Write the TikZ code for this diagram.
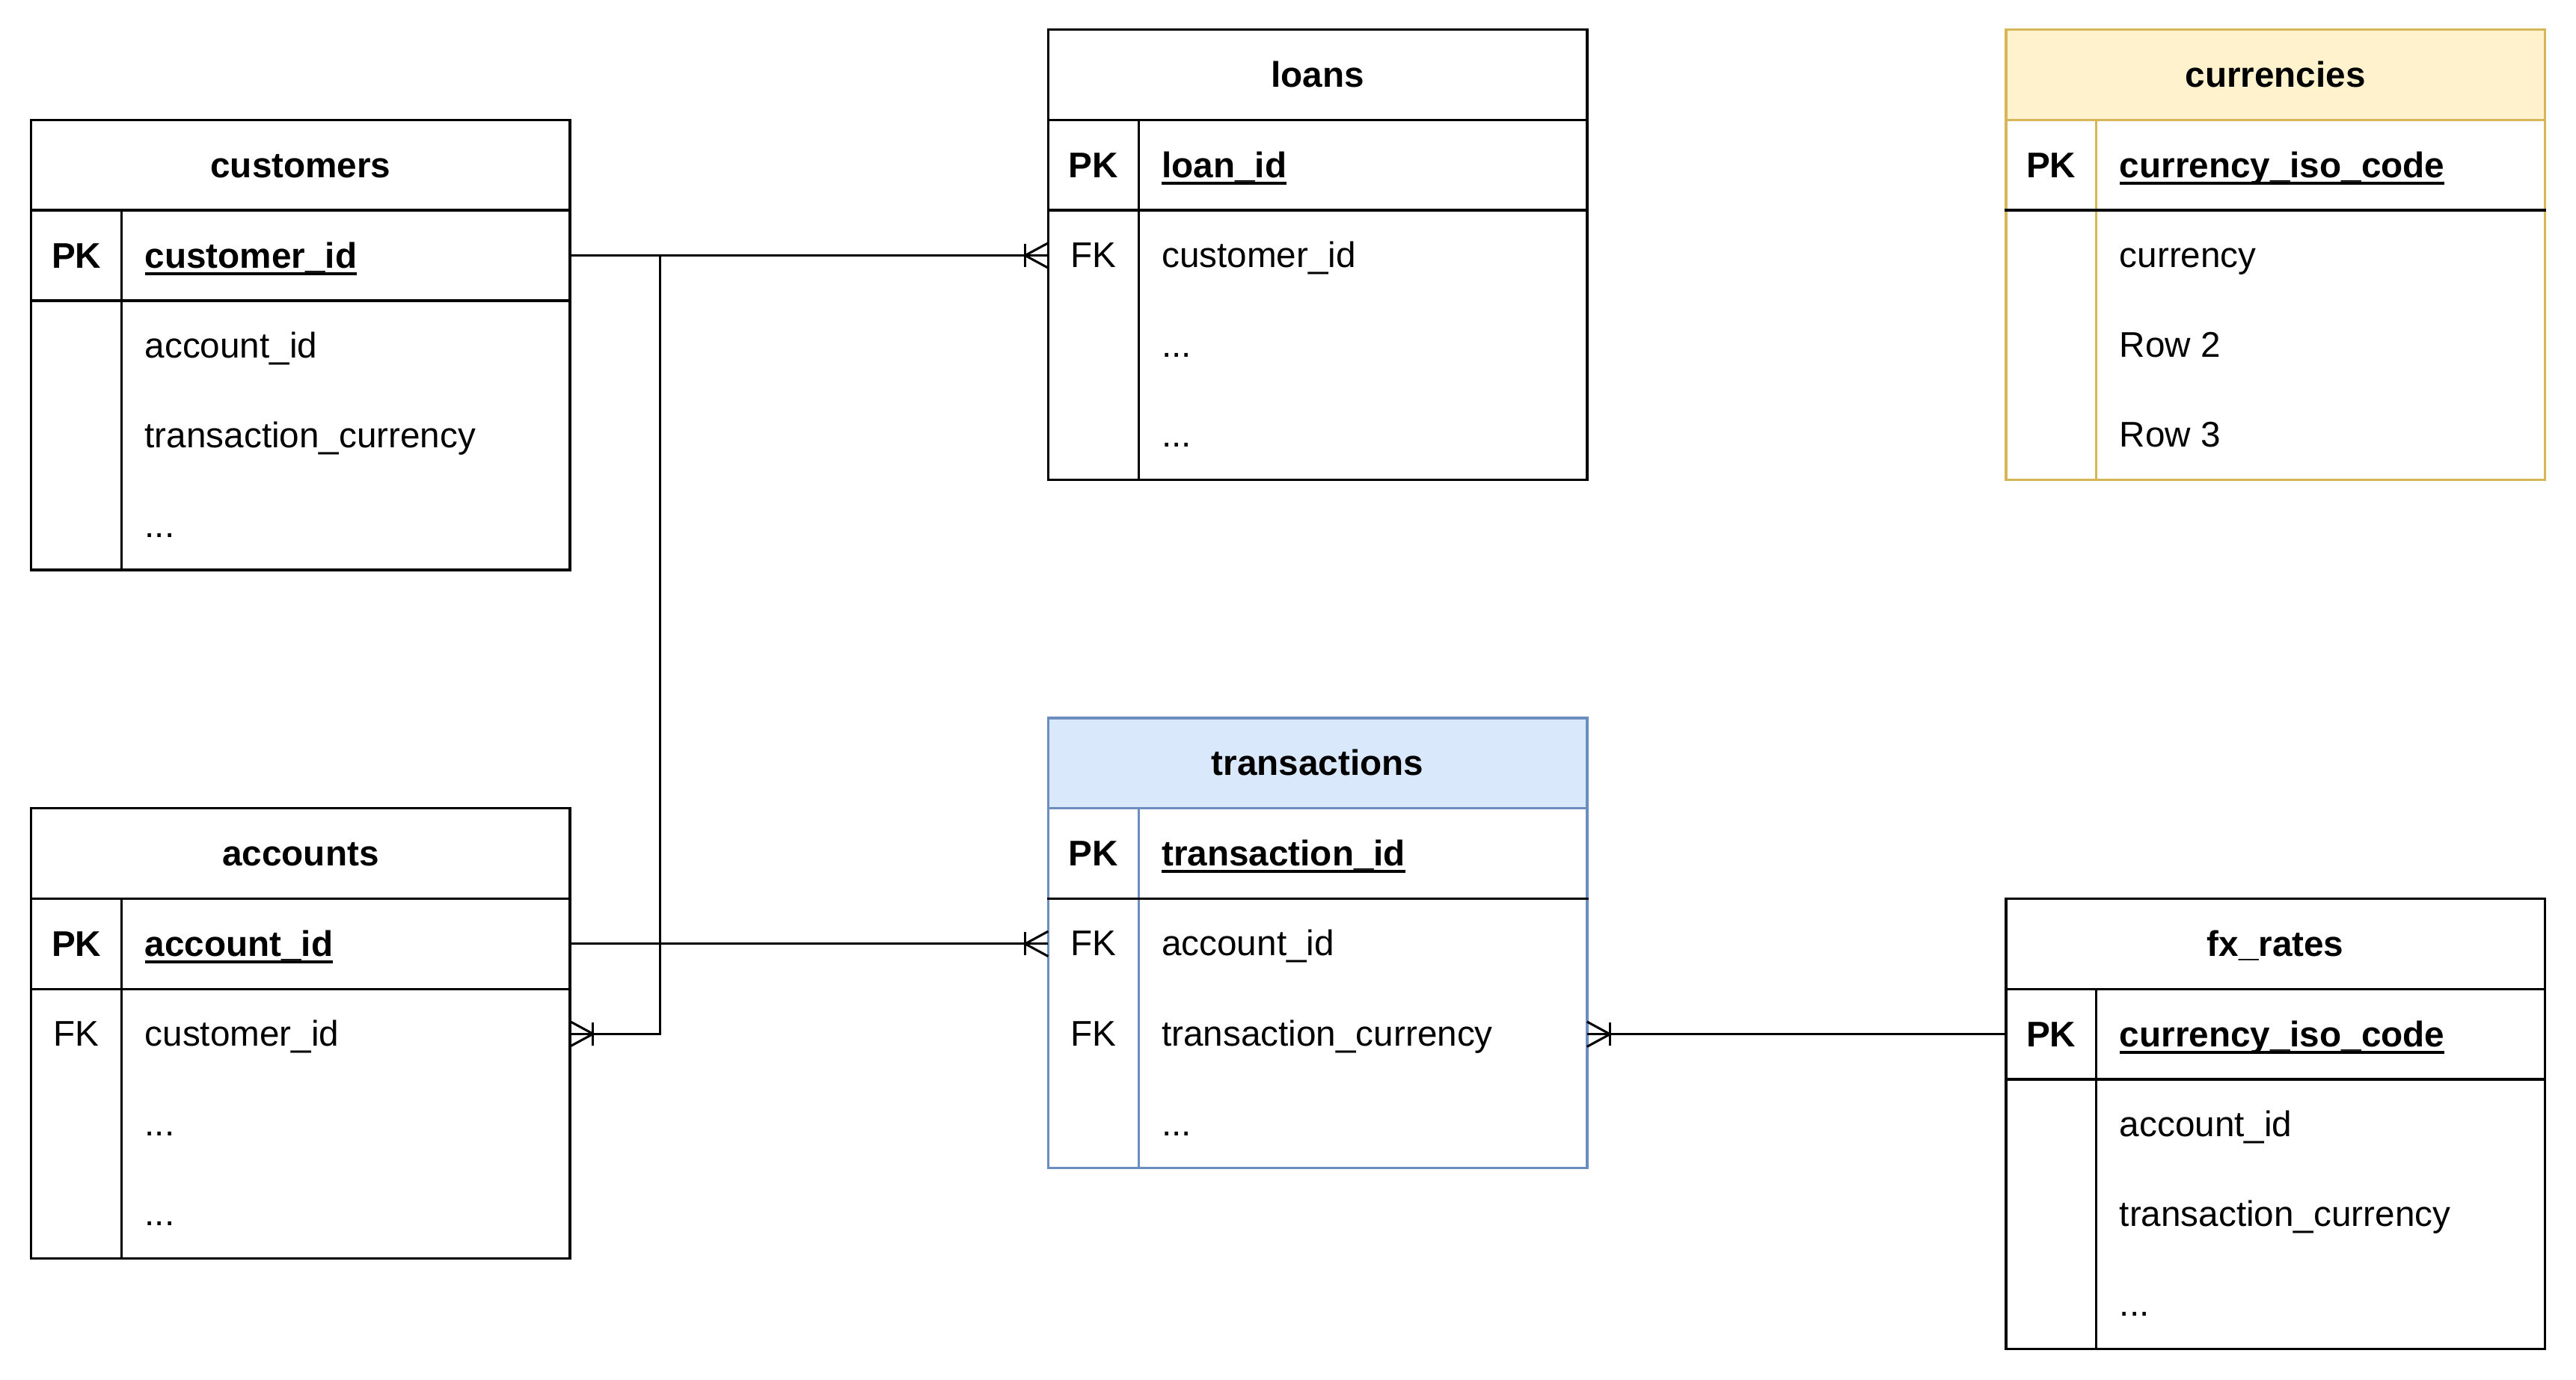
\documentclass[tikz,border=0pt]{standalone}
\usepackage{fontspec}
\setmainfont{Liberation Sans}
\usetikzlibrary{calc}
\definecolor{bluestroke}{HTML}{6C8EBF}
\definecolor{bluefill}{HTML}{DAE8FC}
\definecolor{yelstroke}{HTML}{D6B656}
\definecolor{yelfill}{HTML}{FFF2CC}

\newcommand{\pkul}[1]{\setbox0=\hbox{#1}\rlap{\rule[-0.2em]{\wd0}{0.075em}}\box0}
\newcommand{\basefont}{\fontsize{21.7}{26}\selectfont}

\tikzset{
  tblbox/.style={minimum width=328pt, minimum height=274pt, inner sep=0pt, outer sep=0pt, fill=white, line width=1.6pt},
  hdrbox/.style={minimum width=328pt, minimum height=55pt, inner sep=0pt, outer sep=0pt, line width=1.6pt},
  pkbox/.style={minimum width=328pt, minimum height=55pt, inner sep=0pt, outer sep=0pt},
  rowbox/.style={minimum width=328pt, minimum height=54.667pt, inner sep=0pt, outer sep=0pt},
  ttl/.style={inner sep=0pt, font=\basefont\bfseries},
  fld/.style={inner sep=0pt, font=\basefont},
  divline/.style={line width=1.4pt},
  sepline/.style={line width=1.6pt, draw=black},
  conn/.style={line width=1.4pt, draw=black},
}

% #1 name, #2 x, #3 y, #4 title, #5 pk field, #6 stroke, #7 header fill
\newcommand{\ertable}[7]{%
  \node[tblbox, draw=#6, anchor=north west] (#1) at (#2,#3) {};
  \node[hdrbox, draw=#6, fill=#7, anchor=north west] (#1-h) at (#2,#3) {};
  \node[ttl, anchor=base] (#1-t) at ($(#1-h.center)+(0,7.5)$) {#4};
  \node[pkbox, anchor=north west] (#1-pk) at (#1-h.south west) {};
  \node[rowbox, anchor=north west] (#1-r1) at (#1-pk.south west) {};
  \node[rowbox, anchor=north west] (#1-r2) at (#1-r1.south west) {};
  \node[rowbox, anchor=north west] (#1-r3) at (#1-r2.south west) {};
  \draw[divline, draw=#6] ($(#1-pk.north west)+(55,0)$) -- ($(#1.south west)+(55,0)$);
  \draw[line width=1.6pt, draw=#6] (#1.north west) rectangle (#1.south east);
  \draw[sepline] ($(#1-pk.south west)+(-0.8,0)$) -- ($(#1-pk.south east)+(0.8,0)$);
  \node[ttl, anchor=base] (#1-pkk) at ($(#1-pk.west)+(27.5,7.5)$) {PK};
  \node[ttl, anchor=base west] (#1-pkf) at ($(#1-pk.west)+(69,7.5)$) {\pkul{#5}};
}
% #1 name, #2 row index, #3 text
\newcommand{\errow}[3]{%
  \node[fld, anchor=base west] (#1-v#2) at ($(#1-r#2.west)+(69,7.5)$) {#3};
}
% #1 name, #2 row index, #3 key
\newcommand{\erkey}[3]{%
  \node[fld, anchor=base] (#1-k#2) at ($(#1-r#2.west)+(27.5,7.5)$) {#3};
}
% crow's foot with bar: #1 end point, #2 side (-1 line from left, 1 line from right)
\newcommand{\crowfoot}[2]{%
  \draw[conn] ($(#1)+(#2*14,-7)$) -- ($(#1)+(#2*14,7)$);
  \draw[conn] ($(#1)+(0,-7.6)$) -- ($(#1)+(#2*14,0)$) -- ($(#1)+(0,7.6)$);
}

\begin{document}
\begin{tikzpicture}[x=1pt, y=-1pt]
\useasboundingbox[fill=white] (0,0) rectangle (1568,839.6);

\ertable{customers}{19}{73}{customers}{customer\_id}{black}{white}
\errow{customers}{1}{account\_id}
\errow{customers}{2}{transaction\_currency}
\errow{customers}{3}{...}

\ertable{loans}{638}{18}{loans}{loan\_id}{black}{white}
\erkey{loans}{1}{FK}
\errow{loans}{1}{customer\_id}
\errow{loans}{2}{...}
\errow{loans}{3}{...}

\ertable{currencies}{1221}{18}{currencies}{currency\_iso\_code}{yelstroke}{yelfill}
\errow{currencies}{1}{currency}
\errow{currencies}{2}{Row 2}
\errow{currencies}{3}{Row 3}

\ertable{accounts}{19}{492}{accounts}{account\_id}{black}{white}
\erkey{accounts}{1}{FK}
\errow{accounts}{1}{customer\_id}
\errow{accounts}{2}{...}
\errow{accounts}{3}{...}

\ertable{transactions}{638}{437}{transactions}{transaction\_id}{bluestroke}{bluefill}
\erkey{transactions}{1}{FK}
\errow{transactions}{1}{account\_id}
\erkey{transactions}{2}{FK}
\errow{transactions}{2}{transaction\_currency}
\errow{transactions}{3}{...}

\ertable{fx}{1221}{547}{fx\_rates}{currency\_iso\_code}{black}{white}
\errow{fx}{1}{account\_id}
\errow{fx}{2}{transaction\_currency}
\errow{fx}{3}{...}

% connectors
\coordinate (j1) at ($(customers-pk.east)+(54.6,0)$);
\coordinate (e1) at (loans-r1.west |- customers-pk.east);
\coordinate (e2) at (accounts-r1.east);
\coordinate (e3) at (transactions-r1.west |- accounts-pk.east);
\coordinate (e4) at (transactions-r2.east |- fx-pk.west);
\draw[conn] (customers-pk.east) -- (e1);
\crowfoot{e1}{-1}
\draw[conn] (customers-pk.east) -- (j1) |- (e2);
\crowfoot{e2}{1}
\draw[conn] (accounts-pk.east) -- (e3);
\crowfoot{e3}{-1}
\draw[conn] (fx-pk.west) -- (e4);
\crowfoot{e4}{1}
\end{tikzpicture}
\end{document}
